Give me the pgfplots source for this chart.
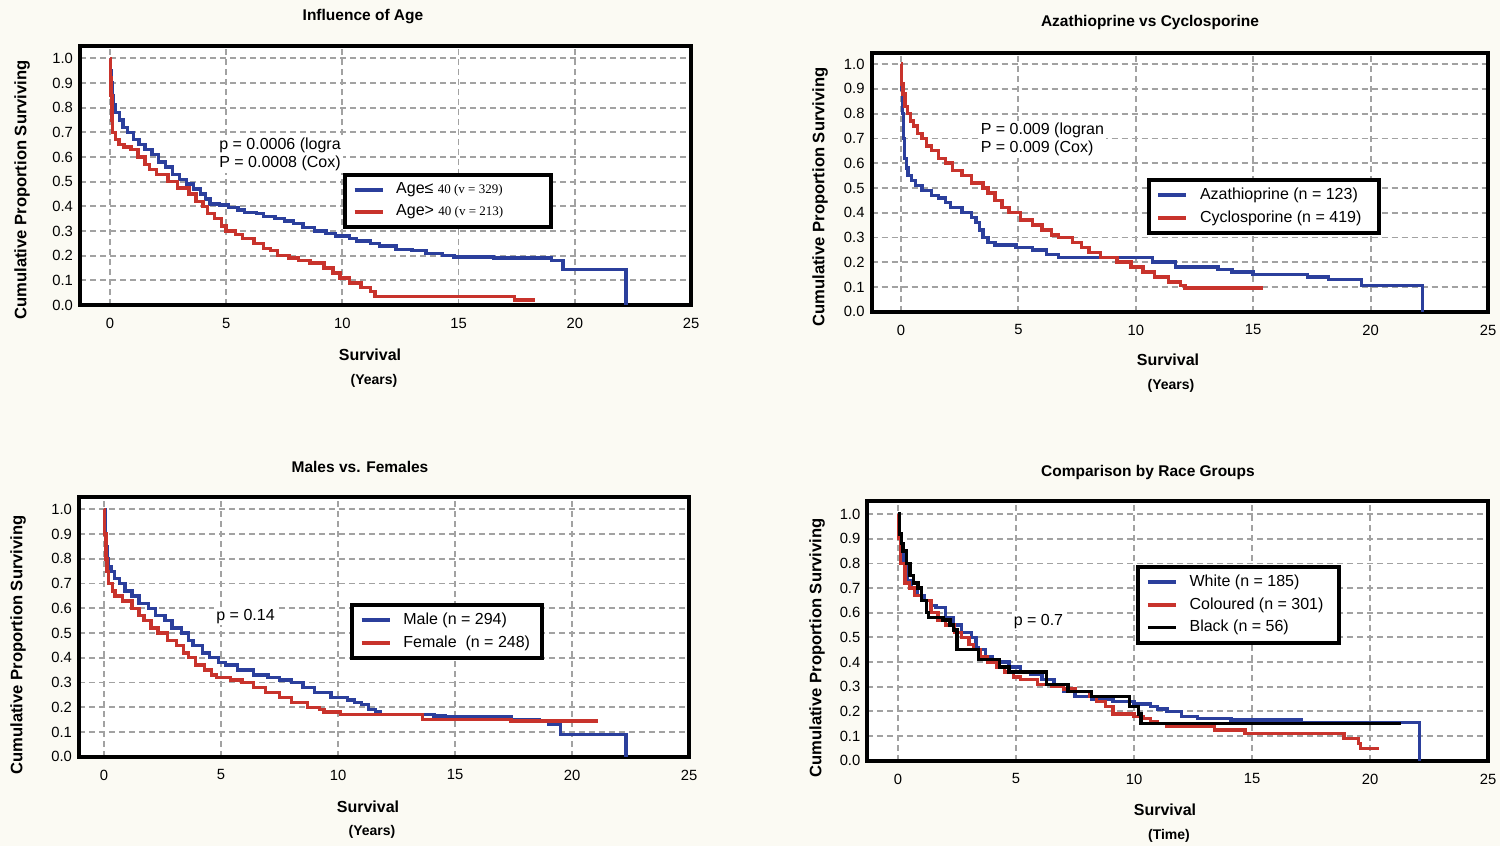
\documentclass[border=0pt]{standalone}
\usepackage{fontspec}
\setmainfont{Liberation Sans}
\newfontfamily\serifnum{Liberation Serif}
\usepackage{pgfplots}
\pgfplotsset{compat=1.18}

\definecolor{kmblue}{HTML}{2B3F9C}
\definecolor{kmred}{HTML}{C8332C}
\definecolor{gridgray}{HTML}{A2A2A2}
\definecolor{paper}{HTML}{FBFAF3}

\pgfplotsset{
  km/.style={
    scale only axis,
    ymin=0,
    xtick={0,5,10,15,20,25},
    ytick={0,0.1,0.2,0.3,0.4,0.5,0.6,0.7,0.8,0.9,1.0},
    yticklabel style={/pgf/number format/.cd,fixed,fixed zerofill,precision=1},
    /pgf/number format/assume math mode=true,
    ticklabel style={font=\fontsize{7.4}{8}\selectfont},
    xticklabel shift=3pt,
    major tick length=0pt,
    grid=major,
    grid style={gridgray, line width=0.9pt, dash pattern=on 3pt off 2pt},
    axis line style={line width=2pt},
    axis background/.style={fill=white},
    legend cell align=left,
    legend style={draw=black, line width=2pt, fill=white,
      font=\fontsize{8}{9}\selectfont, inner xsep=4pt, inner ysep=2pt,
      row sep=0pt, anchor=north west},
    legend image code/.code={
      \draw[#1, line width=1.8pt] (0pt,0pt) -- (14pt,0pt);
      \path (18pt,0pt);},
  },
  kmline/.style={const plot, line width=1.7pt, no marks},
}
\tikzset{
  pnote/.style={anchor=west, fill=white, inner sep=1pt, align=left,
    font=\fontsize{8}{9}\selectfont},
}

\newcommand{\titlefont}{\bfseries\fontsize{7.75}{9}\selectfont}
\newcommand{\ylabfont}{\bfseries\fontsize{8.3}{9}\selectfont}
\newcommand{\xlabfont}{\bfseries\fontsize{8}{9}\selectfont}
\newcommand{\unitfont}{\bfseries\fontsize{7}{8}\selectfont}

\begin{document}
\begin{tikzpicture}
\useasboundingbox (0,0) rectangle (750pt,-423pt);
\fill[paper] (0,0) rectangle (750pt,-423pt);

% ---------------- Influence of Age ----------------
\begin{axis}[km, at={(40pt,-152.5pt)}, anchor=south west,
  width=305.5pt, height=129.5pt, xmin=-1.29, xmax=25, ymax=1.05,
  legend style={at={(0.43,0.51)}}]
\addplot[kmline, kmblue] coordinates {
(0,1.0) (0.03,0.95) (0.06,0.9) (0.1,0.85) (0.15,0.81) (0.25,0.78) (0.4,0.75)
(0.56,0.72) (0.75,0.70) (1.0,0.67) (1.25,0.65) (1.5,0.63) (1.8,0.61) (2.1,0.58)
(2.4,0.56) (2.7,0.53) (3.0,0.51) (3.3,0.49) (3.6,0.47) (3.9,0.45) (4.1,0.43)
(4.3,0.41) (4.7,0.405) (5.1,0.395) (5.5,0.385) (5.8,0.375) (6.3,0.37) (6.6,0.36)
(7.1,0.35) (7.5,0.34) (7.9,0.33) (8.3,0.315) (8.8,0.30) (9.3,0.29) (9.7,0.28)
(10.3,0.27) (10.6,0.26) (11.2,0.25) (11.6,0.24) (12.3,0.225) (13.0,0.22)
(13.6,0.21) (14.3,0.20) (14.8,0.195) (16.5,0.19) (19.0,0.18) (19.5,0.145)
(22.2,0.0)};
\addlegendentry{Age≤ {\serifnum\fontsize{6.5}{7}\selectfont 40 (v = 329)}\hspace*{18pt}}
\addplot[kmline, kmred] coordinates {
(0,1.0) (0.02,0.92) (0.05,0.85) (0.08,0.75) (0.12,0.70) (0.25,0.67) (0.39,0.65)
(0.6,0.64) (0.9,0.63) (1.2,0.60) (1.5,0.57) (1.7,0.55) (2.0,0.53) (2.5,0.50)
(2.9,0.475) (3.4,0.45) (3.7,0.42) (4.0,0.40) (4.2,0.37) (4.5,0.35) (4.8,0.32)
(5.0,0.30) (5.4,0.285) (5.7,0.27) (6.2,0.25) (6.6,0.23) (6.9,0.22) (7.2,0.20)
(7.7,0.19) (8.1,0.18) (8.6,0.17) (9.2,0.15) (9.6,0.13) (9.9,0.11) (10.3,0.09)
(10.8,0.07) (11.2,0.055) (11.4,0.035) (17.4,0.02) (18.3,0.02)};
\addlegendentry{Age> {\serifnum\fontsize{6.5}{7}\selectfont 40 (v = 213)}}
\node[pnote] at (axis cs:4.6,0.61) {p = 0.0006 (logra\\P = 0.0008 (Cox)};
\end{axis}

% ---------------- Azathioprine vs Cyclosporine ----------------
\begin{axis}[km, at={(435.8pt,-155.85pt)}, anchor=south west,
  width=308.2pt, height=129.35pt, xmin=-1.25, xmax=25, ymax=1.045,
  legend style={at={(0.446,0.517)}}]
\addplot[kmline, kmblue] coordinates {
(0,1.0) (0.03,0.9) (0.06,0.8) (0.1,0.7) (0.15,0.62) (0.23,0.58) (0.3,0.55)
(0.45,0.53) (0.63,0.51) (0.9,0.49) (1.3,0.47) (1.6,0.46) (1.9,0.44) (2.1,0.42)
(2.6,0.40) (3.0,0.38) (3.2,0.36) (3.35,0.33) (3.5,0.30) (3.7,0.28) (4.0,0.27)
(4.9,0.26) (5.6,0.25) (6.2,0.23) (6.7,0.22) (10.7,0.20) (11.7,0.18) (13.5,0.17)
(14.1,0.16) (15.0,0.15) (17.3,0.14) (18.2,0.13) (19.6,0.105) (22.2,0.0)};
\addlegendentry{Azathioprine (n = 123)}
\addplot[kmline, kmred] coordinates {
(0,1.0) (0.03,0.92) (0.09,0.88) (0.18,0.83) (0.27,0.80) (0.4,0.77) (0.54,0.75)
(0.7,0.72) (0.9,0.70) (1.1,0.67) (1.3,0.65) (1.6,0.62) (1.9,0.60) (2.2,0.57)
(2.6,0.55) (3.0,0.52) (3.5,0.50) (3.7,0.48) (4.0,0.45) (4.3,0.42) (4.6,0.40)
(5.1,0.37) (5.6,0.35) (6.0,0.33) (6.4,0.31) (6.7,0.30) (7.3,0.28) (7.7,0.26)
(8.0,0.24) (8.5,0.22) (9.2,0.20) (9.8,0.18) (10.3,0.16) (10.8,0.14) (11.4,0.12)
(11.9,0.105) (12.1,0.095) (15.4,0.095)};
\addlegendentry{Cyclosporine (n = 419)\hspace*{3pt}}
\node[pnote] at (axis cs:3.3,0.695) {P = 0.009 (logran\\P = 0.009 (Cox)};
\end{axis}

% ---------------- Males vs. Females ----------------
\begin{axis}[km, at={(39.5pt,-378.35pt)}, anchor=south west,
  width=305pt, height=129.85pt, xmin=-1.07, xmax=25, ymax=1.05,
  legend style={at={(0.444,0.592)}}]
\addplot[kmline, kmblue] coordinates {
(0,1.0) (0.04,0.9) (0.08,0.85) (0.12,0.80) (0.2,0.77) (0.3,0.75) (0.45,0.72)
(0.65,0.70) (0.9,0.67) (1.2,0.65) (1.5,0.62) (1.9,0.60) (2.2,0.57) (2.6,0.55)
(2.9,0.52) (3.3,0.50) (3.6,0.47) (3.8,0.45) (4.2,0.42) (4.5,0.40) (4.9,0.38)
(5.2,0.37) (5.7,0.35) (6.4,0.33) (7.0,0.32) (7.5,0.31) (8.0,0.30) (8.5,0.28)
(9.0,0.26) (9.7,0.24) (10.4,0.23) (10.7,0.22) (11.0,0.21) (11.3,0.19)
(11.6,0.18) (11.8,0.17) (14.1,0.165) (14.6,0.16) (17.4,0.15) (18.6,0.145)
(19.0,0.13) (19.5,0.09) (22.3,0.0)};
\addlegendentry{Male (n = 294)}
\addplot[kmline, kmred] coordinates {
(0,1.0) (0.03,0.9) (0.08,0.8) (0.12,0.75) (0.2,0.70) (0.35,0.67) (0.47,0.65)
(0.8,0.63) (1.2,0.60) (1.5,0.57) (1.7,0.55) (2.0,0.52) (2.3,0.50) (2.7,0.47)
(3.1,0.45) (3.4,0.42) (3.6,0.40) (3.9,0.37) (4.3,0.35) (4.6,0.33) (4.8,0.32)
(5.4,0.31) (5.9,0.30) (6.4,0.28) (6.9,0.26) (7.5,0.24) (8.0,0.22) (8.7,0.20)
(9.2,0.19) (9.4,0.18) (10.1,0.17) (13.6,0.15) (17.4,0.145) (21.1,0.145)};
\addlegendentry{Female\ \ (n = 248)}
\node[pnote] at (axis cs:4.7,0.568) {p = 0.14};
\end{axis}

% ---------------- Comparison by Race Groups ----------------
\begin{axis}[km, at={(433.7pt,-380.35pt)}, anchor=south west,
  width=310.3pt, height=129.85pt, xmin=-1.3, xmax=25, ymax=1.053,
  legend style={at={(0.433,0.754)}}]
\addplot[kmline, kmblue] coordinates {
(0,1.0) (0.03,0.9) (0.1,0.85) (0.2,0.80) (0.4,0.73) (0.57,0.70) (0.8,0.67)
(1.1,0.65) (1.4,0.63) (1.6,0.62) (2.0,0.58) (2.35,0.55) (2.7,0.52) (3.1,0.50)
(3.3,0.46) (3.4,0.45) (3.7,0.42) (4.0,0.40) (4.7,0.38) (5.2,0.36) (5.6,0.35)
(6.1,0.33) (6.6,0.30) (7.0,0.28) (7.5,0.26) (8.2,0.25) (9.1,0.24) (10.0,0.23)
(10.7,0.22) (11.0,0.21) (11.4,0.20) (12.0,0.18) (12.7,0.17) (14.1,0.165)
(17.1,0.155) (22.1,0.0)};
\addlegendentry{White (n = 185)}
\addplot[kmline, kmred] coordinates {
(0,1.0) (0.02,0.9) (0.1,0.8) (0.3,0.72) (0.48,0.70) (0.7,0.67) (1.0,0.65)
(1.4,0.60) (1.7,0.57) (2.0,0.55) (2.4,0.52) (2.7,0.50) (3.0,0.47) (3.2,0.45)
(3.5,0.42) (3.8,0.40) (4.2,0.38) (4.5,0.36) (4.9,0.34) (5.2,0.33) (5.9,0.31)
(6.5,0.30) (7.0,0.29) (7.5,0.28) (8.1,0.26) (8.4,0.24) (8.8,0.22) (9.1,0.19)
(10.0,0.18) (10.4,0.17) (10.7,0.16) (11.0,0.15) (11.4,0.14) (13.4,0.125)
(14.7,0.11) (18.9,0.09) (19.5,0.07) (19.6,0.05) (20.4,0.05)};
\addlegendentry{Coloured (n = 301)\hspace*{2pt}}
\addplot[kmline, black] coordinates {
(0,1.0) (0.05,0.92) (0.15,0.88) (0.2,0.85) (0.35,0.80) (0.5,0.75) (0.66,0.72)
(0.84,0.70) (1.0,0.65) (1.2,0.60) (1.3,0.58) (1.9,0.57) (2.2,0.55) (2.35,0.53)
(2.5,0.45) (3.4,0.41) (4.3,0.38) (4.7,0.36) (6.3,0.31) (7.2,0.28) (8.2,0.26)
(9.8,0.22) (10.2,0.19) (10.3,0.15) (21.3,0.15)};
\addlegendentry{Black (n = 56)}
\node[pnote] at (axis cs:4.8,0.566) {p = 0.7};
\end{axis}

% ---------------- titles and axis labels ----------------
\node[font=\titlefont] at (181.5pt,-8.5pt) {Influence of Age};
\node[font=\titlefont] at (575pt,-11pt) {Azathioprine vs Cyclosporine};
\node[font=\titlefont] at (180pt,-233.5pt) {Males vs. Females};
\node[font=\titlefont] at (574pt,-236pt) {Comparison by Race Groups};

\node[font=\ylabfont, rotate=90] at (11pt,-95pt) {Cumulative Proportion Surviving};
\node[font=\ylabfont, rotate=90] at (410pt,-98.5pt) {Cumulative Proportion Surviving};
\node[font=\ylabfont, rotate=90] at (9pt,-322.5pt) {Cumulative Proportion Surviving};
\node[font=\ylabfont, rotate=90] at (408.5pt,-324pt) {Cumulative Proportion Surviving};

\node[font=\xlabfont] at (185pt,-177.5pt) {Survival};
\node[font=\unitfont] at (187pt,-190.5pt) {(Years)};
\node[font=\xlabfont] at (584pt,-180pt) {Survival};
\node[font=\unitfont] at (585.5pt,-193pt) {(Years)};
\node[font=\xlabfont] at (184pt,-403.5pt) {Survival};
\node[font=\unitfont] at (186pt,-416pt) {(Years)};
\node[font=\xlabfont] at (582.5pt,-405pt) {Survival};
\node[font=\unitfont] at (584.5pt,-418pt) {(Time)};
\end{tikzpicture}
\end{document}
